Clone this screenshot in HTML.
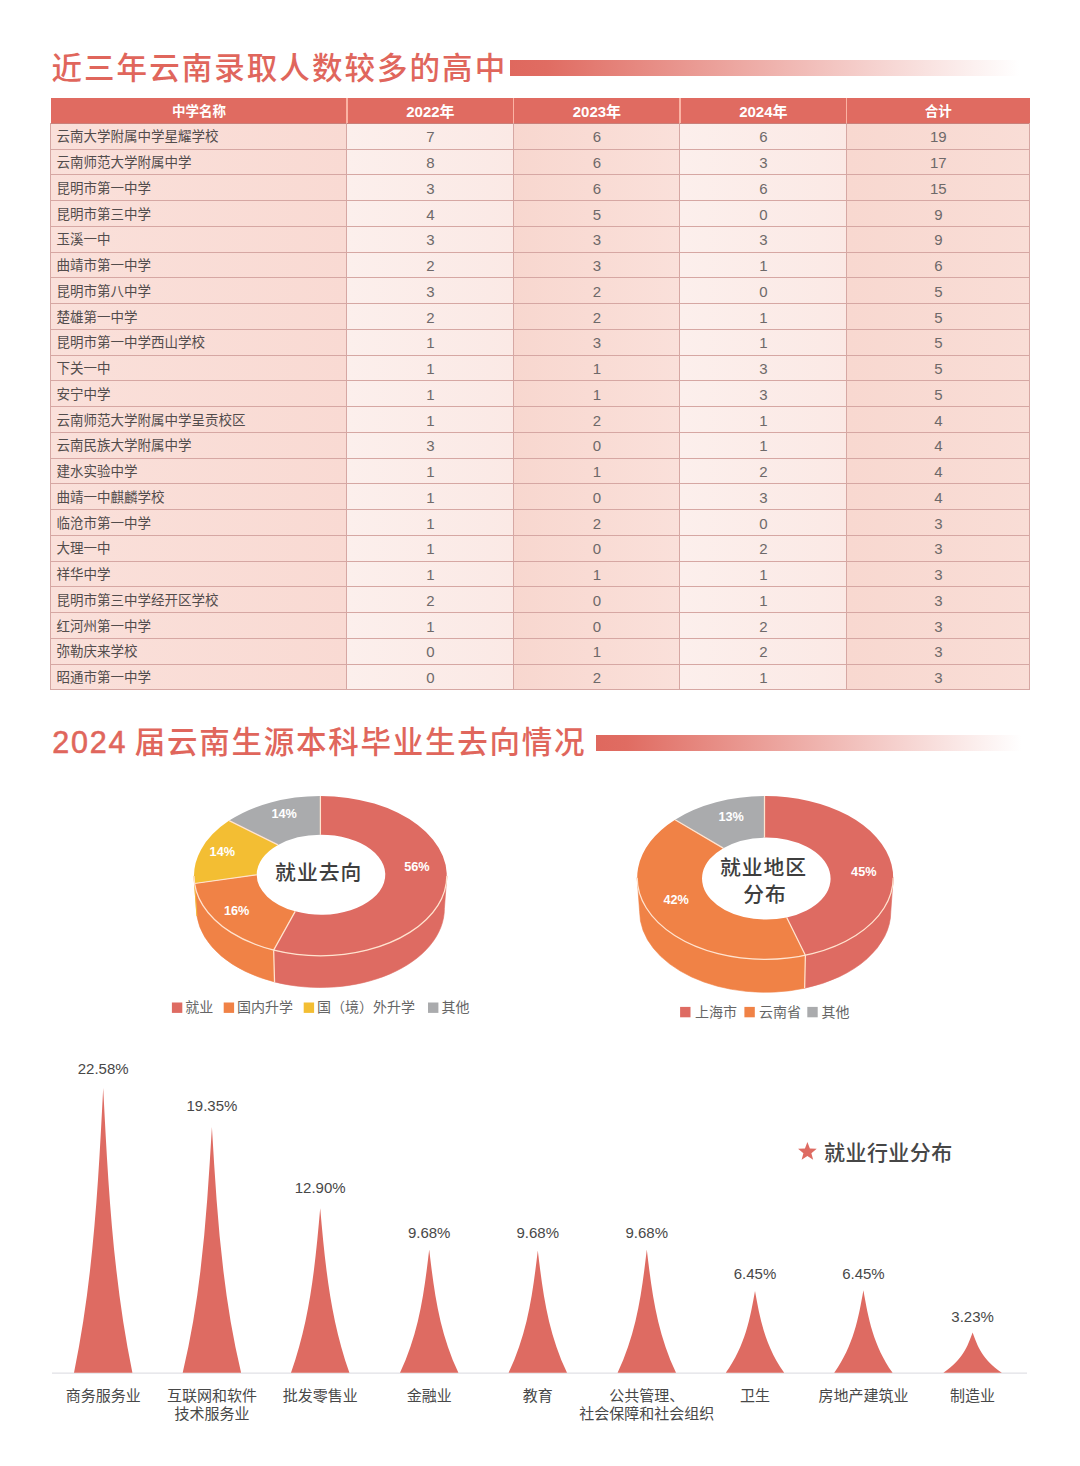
<!DOCTYPE html>
<html lang="zh-CN">
<head>
<meta charset="utf-8">
<title>近三年云南录取人数较多的高中</title>
<style>
html,body{margin:0;padding:0;background:#fff;}
body{width:1080px;height:1466px;position:relative;overflow:hidden;font-family:"Liberation Sans", "Noto Sans CJK SC", sans-serif;}
.abs{position:absolute;}
.title{position:absolute;color:#e0665c;font-weight:500;font-size:30.5px;line-height:40px;white-space:nowrap;letter-spacing:1.6px;}
.bar{position:absolute;height:16px;background:linear-gradient(90deg,#df685e 0%,#e06c62 7%,#ffffff 98%);}
.cell{position:absolute;box-sizing:border-box;white-space:nowrap;overflow:hidden;}
.hd{color:#fff;font-weight:700;text-align:center;font-size:13.5px;}
.hd.n{font-size:15px;}
.nm{color:#524c4c;font-size:13.5px;text-align:left;padding-left:5.5px;}
.nu{color:#6e6969;font-size:15px;text-align:center;}
.hl{position:absolute;height:1px;background:#d6a7a3;}
.vl{position:absolute;width:1.2px;background:#d6a7a3;}
svg text{font-family:"Liberation Sans", "Noto Sans CJK SC", sans-serif;}
</style>
</head>
<body>
<div class="title" id="t1" style="left:51.5px;top:47.5px;letter-spacing:2.05px;">近三年云南录取人数较多的高中</div>
<div class="bar" style="left:510px;top:60px;width:520px;"></div>
<div class="title" id="t2" style="left:52.3px;top:722px;letter-spacing:1.75px;word-spacing:-2.6px;"><span style="-webkit-text-stroke:0.55px #e0665c;">2024</span> 届云南生源本科毕业生去向情况</div>
<div class="bar" style="left:596px;top:735px;width:434px;"></div>
<div id="tbl">
<div class="abs" style="left:51.00px;top:123.40px;width:296.00px;height:566.40px;background:linear-gradient(90deg,#fae0da,#f9dad3);"></div>
<div class="abs" style="left:347.00px;top:123.40px;width:166.80px;height:566.40px;background:linear-gradient(90deg,#fcefec,#fbe9e5);"></div>
<div class="abs" style="left:513.80px;top:123.40px;width:166.20px;height:566.40px;background:linear-gradient(90deg,#f8d7cf,#fae0da);"></div>
<div class="abs" style="left:680.00px;top:123.40px;width:166.70px;height:566.40px;background:linear-gradient(90deg,#fcefec,#fbe9e5);"></div>
<div class="abs" style="left:846.70px;top:123.40px;width:183.30px;height:566.40px;background:linear-gradient(90deg,#f8d8d0,#f9ddd6);"></div>
<div class="abs" style="left:51.00px;top:97.60px;width:979.00px;height:25.80px;background:#e06b61;"></div>
<div class="cell hd" style="left:51.00px;top:97.60px;width:296.00px;height:25.80px;line-height:28.80px;">中学名称</div>
<div class="cell hd n" style="left:347.00px;top:97.60px;width:166.80px;height:25.80px;line-height:28.80px;">2022年</div>
<div class="cell hd n" style="left:513.80px;top:97.60px;width:166.20px;height:25.80px;line-height:28.80px;">2023年</div>
<div class="cell hd n" style="left:680.00px;top:97.60px;width:166.70px;height:25.80px;line-height:28.80px;">2024年</div>
<div class="cell hd" style="left:846.70px;top:97.60px;width:183.30px;height:25.80px;line-height:28.80px;">合计</div>
<div class="abs" style="left:346.30px;top:97.60px;width:1.4px;height:25.80px;background:#fbb3a4;"></div>
<div class="abs" style="left:513.10px;top:97.60px;width:1.4px;height:25.80px;background:#fbb3a4;"></div>
<div class="abs" style="left:679.30px;top:97.60px;width:1.4px;height:25.80px;background:#fbb3a4;"></div>
<div class="abs" style="left:846.00px;top:97.60px;width:1.4px;height:25.80px;background:#fbb3a4;"></div>
<div class="cell nm" style="left:51.00px;top:123.40px;width:296.00px;height:25.75px;line-height:28.05px;">云南大学附属中学星耀学校</div>
<div class="cell nu" style="left:347.00px;top:123.40px;width:166.80px;height:25.75px;line-height:28.25px;">7</div>
<div class="cell nu" style="left:513.80px;top:123.40px;width:166.20px;height:25.75px;line-height:28.25px;">6</div>
<div class="cell nu" style="left:680.00px;top:123.40px;width:166.70px;height:25.75px;line-height:28.25px;">6</div>
<div class="cell nu" style="left:846.70px;top:123.40px;width:183.30px;height:25.75px;line-height:28.25px;">19</div>
<div class="cell nm" style="left:51.00px;top:149.15px;width:296.00px;height:25.75px;line-height:28.05px;">云南师范大学附属中学</div>
<div class="cell nu" style="left:347.00px;top:149.15px;width:166.80px;height:25.75px;line-height:28.25px;">8</div>
<div class="cell nu" style="left:513.80px;top:149.15px;width:166.20px;height:25.75px;line-height:28.25px;">6</div>
<div class="cell nu" style="left:680.00px;top:149.15px;width:166.70px;height:25.75px;line-height:28.25px;">3</div>
<div class="cell nu" style="left:846.70px;top:149.15px;width:183.30px;height:25.75px;line-height:28.25px;">17</div>
<div class="cell nm" style="left:51.00px;top:174.89px;width:296.00px;height:25.75px;line-height:28.05px;">昆明市第一中学</div>
<div class="cell nu" style="left:347.00px;top:174.89px;width:166.80px;height:25.75px;line-height:28.25px;">3</div>
<div class="cell nu" style="left:513.80px;top:174.89px;width:166.20px;height:25.75px;line-height:28.25px;">6</div>
<div class="cell nu" style="left:680.00px;top:174.89px;width:166.70px;height:25.75px;line-height:28.25px;">6</div>
<div class="cell nu" style="left:846.70px;top:174.89px;width:183.30px;height:25.75px;line-height:28.25px;">15</div>
<div class="cell nm" style="left:51.00px;top:200.64px;width:296.00px;height:25.75px;line-height:28.05px;">昆明市第三中学</div>
<div class="cell nu" style="left:347.00px;top:200.64px;width:166.80px;height:25.75px;line-height:28.25px;">4</div>
<div class="cell nu" style="left:513.80px;top:200.64px;width:166.20px;height:25.75px;line-height:28.25px;">5</div>
<div class="cell nu" style="left:680.00px;top:200.64px;width:166.70px;height:25.75px;line-height:28.25px;">0</div>
<div class="cell nu" style="left:846.70px;top:200.64px;width:183.30px;height:25.75px;line-height:28.25px;">9</div>
<div class="cell nm" style="left:51.00px;top:226.38px;width:296.00px;height:25.75px;line-height:28.05px;">玉溪一中</div>
<div class="cell nu" style="left:347.00px;top:226.38px;width:166.80px;height:25.75px;line-height:28.25px;">3</div>
<div class="cell nu" style="left:513.80px;top:226.38px;width:166.20px;height:25.75px;line-height:28.25px;">3</div>
<div class="cell nu" style="left:680.00px;top:226.38px;width:166.70px;height:25.75px;line-height:28.25px;">3</div>
<div class="cell nu" style="left:846.70px;top:226.38px;width:183.30px;height:25.75px;line-height:28.25px;">9</div>
<div class="cell nm" style="left:51.00px;top:252.13px;width:296.00px;height:25.75px;line-height:28.05px;">曲靖市第一中学</div>
<div class="cell nu" style="left:347.00px;top:252.13px;width:166.80px;height:25.75px;line-height:28.25px;">2</div>
<div class="cell nu" style="left:513.80px;top:252.13px;width:166.20px;height:25.75px;line-height:28.25px;">3</div>
<div class="cell nu" style="left:680.00px;top:252.13px;width:166.70px;height:25.75px;line-height:28.25px;">1</div>
<div class="cell nu" style="left:846.70px;top:252.13px;width:183.30px;height:25.75px;line-height:28.25px;">6</div>
<div class="cell nm" style="left:51.00px;top:277.87px;width:296.00px;height:25.75px;line-height:28.05px;">昆明市第八中学</div>
<div class="cell nu" style="left:347.00px;top:277.87px;width:166.80px;height:25.75px;line-height:28.25px;">3</div>
<div class="cell nu" style="left:513.80px;top:277.87px;width:166.20px;height:25.75px;line-height:28.25px;">2</div>
<div class="cell nu" style="left:680.00px;top:277.87px;width:166.70px;height:25.75px;line-height:28.25px;">0</div>
<div class="cell nu" style="left:846.70px;top:277.87px;width:183.30px;height:25.75px;line-height:28.25px;">5</div>
<div class="cell nm" style="left:51.00px;top:303.62px;width:296.00px;height:25.75px;line-height:28.05px;">楚雄第一中学</div>
<div class="cell nu" style="left:347.00px;top:303.62px;width:166.80px;height:25.75px;line-height:28.25px;">2</div>
<div class="cell nu" style="left:513.80px;top:303.62px;width:166.20px;height:25.75px;line-height:28.25px;">2</div>
<div class="cell nu" style="left:680.00px;top:303.62px;width:166.70px;height:25.75px;line-height:28.25px;">1</div>
<div class="cell nu" style="left:846.70px;top:303.62px;width:183.30px;height:25.75px;line-height:28.25px;">5</div>
<div class="cell nm" style="left:51.00px;top:329.36px;width:296.00px;height:25.75px;line-height:28.05px;">昆明市第一中学西山学校</div>
<div class="cell nu" style="left:347.00px;top:329.36px;width:166.80px;height:25.75px;line-height:28.25px;">1</div>
<div class="cell nu" style="left:513.80px;top:329.36px;width:166.20px;height:25.75px;line-height:28.25px;">3</div>
<div class="cell nu" style="left:680.00px;top:329.36px;width:166.70px;height:25.75px;line-height:28.25px;">1</div>
<div class="cell nu" style="left:846.70px;top:329.36px;width:183.30px;height:25.75px;line-height:28.25px;">5</div>
<div class="cell nm" style="left:51.00px;top:355.11px;width:296.00px;height:25.75px;line-height:28.05px;">下关一中</div>
<div class="cell nu" style="left:347.00px;top:355.11px;width:166.80px;height:25.75px;line-height:28.25px;">1</div>
<div class="cell nu" style="left:513.80px;top:355.11px;width:166.20px;height:25.75px;line-height:28.25px;">1</div>
<div class="cell nu" style="left:680.00px;top:355.11px;width:166.70px;height:25.75px;line-height:28.25px;">3</div>
<div class="cell nu" style="left:846.70px;top:355.11px;width:183.30px;height:25.75px;line-height:28.25px;">5</div>
<div class="cell nm" style="left:51.00px;top:380.85px;width:296.00px;height:25.75px;line-height:28.05px;">安宁中学</div>
<div class="cell nu" style="left:347.00px;top:380.85px;width:166.80px;height:25.75px;line-height:28.25px;">1</div>
<div class="cell nu" style="left:513.80px;top:380.85px;width:166.20px;height:25.75px;line-height:28.25px;">1</div>
<div class="cell nu" style="left:680.00px;top:380.85px;width:166.70px;height:25.75px;line-height:28.25px;">3</div>
<div class="cell nu" style="left:846.70px;top:380.85px;width:183.30px;height:25.75px;line-height:28.25px;">5</div>
<div class="cell nm" style="left:51.00px;top:406.60px;width:296.00px;height:25.75px;line-height:28.05px;">云南师范大学附属中学呈贡校区</div>
<div class="cell nu" style="left:347.00px;top:406.60px;width:166.80px;height:25.75px;line-height:28.25px;">1</div>
<div class="cell nu" style="left:513.80px;top:406.60px;width:166.20px;height:25.75px;line-height:28.25px;">2</div>
<div class="cell nu" style="left:680.00px;top:406.60px;width:166.70px;height:25.75px;line-height:28.25px;">1</div>
<div class="cell nu" style="left:846.70px;top:406.60px;width:183.30px;height:25.75px;line-height:28.25px;">4</div>
<div class="cell nm" style="left:51.00px;top:432.35px;width:296.00px;height:25.75px;line-height:28.05px;">云南民族大学附属中学</div>
<div class="cell nu" style="left:347.00px;top:432.35px;width:166.80px;height:25.75px;line-height:28.25px;">3</div>
<div class="cell nu" style="left:513.80px;top:432.35px;width:166.20px;height:25.75px;line-height:28.25px;">0</div>
<div class="cell nu" style="left:680.00px;top:432.35px;width:166.70px;height:25.75px;line-height:28.25px;">1</div>
<div class="cell nu" style="left:846.70px;top:432.35px;width:183.30px;height:25.75px;line-height:28.25px;">4</div>
<div class="cell nm" style="left:51.00px;top:458.09px;width:296.00px;height:25.75px;line-height:28.05px;">建水实验中学</div>
<div class="cell nu" style="left:347.00px;top:458.09px;width:166.80px;height:25.75px;line-height:28.25px;">1</div>
<div class="cell nu" style="left:513.80px;top:458.09px;width:166.20px;height:25.75px;line-height:28.25px;">1</div>
<div class="cell nu" style="left:680.00px;top:458.09px;width:166.70px;height:25.75px;line-height:28.25px;">2</div>
<div class="cell nu" style="left:846.70px;top:458.09px;width:183.30px;height:25.75px;line-height:28.25px;">4</div>
<div class="cell nm" style="left:51.00px;top:483.84px;width:296.00px;height:25.75px;line-height:28.05px;">曲靖一中麒麟学校</div>
<div class="cell nu" style="left:347.00px;top:483.84px;width:166.80px;height:25.75px;line-height:28.25px;">1</div>
<div class="cell nu" style="left:513.80px;top:483.84px;width:166.20px;height:25.75px;line-height:28.25px;">0</div>
<div class="cell nu" style="left:680.00px;top:483.84px;width:166.70px;height:25.75px;line-height:28.25px;">3</div>
<div class="cell nu" style="left:846.70px;top:483.84px;width:183.30px;height:25.75px;line-height:28.25px;">4</div>
<div class="cell nm" style="left:51.00px;top:509.58px;width:296.00px;height:25.75px;line-height:28.05px;">临沧市第一中学</div>
<div class="cell nu" style="left:347.00px;top:509.58px;width:166.80px;height:25.75px;line-height:28.25px;">1</div>
<div class="cell nu" style="left:513.80px;top:509.58px;width:166.20px;height:25.75px;line-height:28.25px;">2</div>
<div class="cell nu" style="left:680.00px;top:509.58px;width:166.70px;height:25.75px;line-height:28.25px;">0</div>
<div class="cell nu" style="left:846.70px;top:509.58px;width:183.30px;height:25.75px;line-height:28.25px;">3</div>
<div class="cell nm" style="left:51.00px;top:535.33px;width:296.00px;height:25.75px;line-height:28.05px;">大理一中</div>
<div class="cell nu" style="left:347.00px;top:535.33px;width:166.80px;height:25.75px;line-height:28.25px;">1</div>
<div class="cell nu" style="left:513.80px;top:535.33px;width:166.20px;height:25.75px;line-height:28.25px;">0</div>
<div class="cell nu" style="left:680.00px;top:535.33px;width:166.70px;height:25.75px;line-height:28.25px;">2</div>
<div class="cell nu" style="left:846.70px;top:535.33px;width:183.30px;height:25.75px;line-height:28.25px;">3</div>
<div class="cell nm" style="left:51.00px;top:561.07px;width:296.00px;height:25.75px;line-height:28.05px;">祥华中学</div>
<div class="cell nu" style="left:347.00px;top:561.07px;width:166.80px;height:25.75px;line-height:28.25px;">1</div>
<div class="cell nu" style="left:513.80px;top:561.07px;width:166.20px;height:25.75px;line-height:28.25px;">1</div>
<div class="cell nu" style="left:680.00px;top:561.07px;width:166.70px;height:25.75px;line-height:28.25px;">1</div>
<div class="cell nu" style="left:846.70px;top:561.07px;width:183.30px;height:25.75px;line-height:28.25px;">3</div>
<div class="cell nm" style="left:51.00px;top:586.82px;width:296.00px;height:25.75px;line-height:28.05px;">昆明市第三中学经开区学校</div>
<div class="cell nu" style="left:347.00px;top:586.82px;width:166.80px;height:25.75px;line-height:28.25px;">2</div>
<div class="cell nu" style="left:513.80px;top:586.82px;width:166.20px;height:25.75px;line-height:28.25px;">0</div>
<div class="cell nu" style="left:680.00px;top:586.82px;width:166.70px;height:25.75px;line-height:28.25px;">1</div>
<div class="cell nu" style="left:846.70px;top:586.82px;width:183.30px;height:25.75px;line-height:28.25px;">3</div>
<div class="cell nm" style="left:51.00px;top:612.56px;width:296.00px;height:25.75px;line-height:28.05px;">红河州第一中学</div>
<div class="cell nu" style="left:347.00px;top:612.56px;width:166.80px;height:25.75px;line-height:28.25px;">1</div>
<div class="cell nu" style="left:513.80px;top:612.56px;width:166.20px;height:25.75px;line-height:28.25px;">0</div>
<div class="cell nu" style="left:680.00px;top:612.56px;width:166.70px;height:25.75px;line-height:28.25px;">2</div>
<div class="cell nu" style="left:846.70px;top:612.56px;width:183.30px;height:25.75px;line-height:28.25px;">3</div>
<div class="cell nm" style="left:51.00px;top:638.31px;width:296.00px;height:25.75px;line-height:28.05px;">弥勒庆来学校</div>
<div class="cell nu" style="left:347.00px;top:638.31px;width:166.80px;height:25.75px;line-height:28.25px;">0</div>
<div class="cell nu" style="left:513.80px;top:638.31px;width:166.20px;height:25.75px;line-height:28.25px;">1</div>
<div class="cell nu" style="left:680.00px;top:638.31px;width:166.70px;height:25.75px;line-height:28.25px;">2</div>
<div class="cell nu" style="left:846.70px;top:638.31px;width:183.30px;height:25.75px;line-height:28.25px;">3</div>
<div class="cell nm" style="left:51.00px;top:664.05px;width:296.00px;height:25.75px;line-height:28.05px;">昭通市第一中学</div>
<div class="cell nu" style="left:347.00px;top:664.05px;width:166.80px;height:25.75px;line-height:28.25px;">0</div>
<div class="cell nu" style="left:513.80px;top:664.05px;width:166.20px;height:25.75px;line-height:28.25px;">2</div>
<div class="cell nu" style="left:680.00px;top:664.05px;width:166.70px;height:25.75px;line-height:28.25px;">1</div>
<div class="cell nu" style="left:846.70px;top:664.05px;width:183.30px;height:25.75px;line-height:28.25px;">3</div>
<div class="hl" style="left:51.00px;top:122.90px;width:979.00px;background:#c9807a;"></div>
<div class="hl" style="left:51.00px;top:149px;width:979.00px;"></div>
<div class="hl" style="left:51.00px;top:174px;width:979.00px;"></div>
<div class="hl" style="left:51.00px;top:200px;width:979.00px;"></div>
<div class="hl" style="left:51.00px;top:226px;width:979.00px;"></div>
<div class="hl" style="left:51.00px;top:252px;width:979.00px;"></div>
<div class="hl" style="left:51.00px;top:277px;width:979.00px;"></div>
<div class="hl" style="left:51.00px;top:303px;width:979.00px;"></div>
<div class="hl" style="left:51.00px;top:329px;width:979.00px;"></div>
<div class="hl" style="left:51.00px;top:355px;width:979.00px;"></div>
<div class="hl" style="left:51.00px;top:380px;width:979.00px;"></div>
<div class="hl" style="left:51.00px;top:406px;width:979.00px;"></div>
<div class="hl" style="left:51.00px;top:432px;width:979.00px;"></div>
<div class="hl" style="left:51.00px;top:458px;width:979.00px;"></div>
<div class="hl" style="left:51.00px;top:483px;width:979.00px;"></div>
<div class="hl" style="left:51.00px;top:509px;width:979.00px;"></div>
<div class="hl" style="left:51.00px;top:535px;width:979.00px;"></div>
<div class="hl" style="left:51.00px;top:561px;width:979.00px;"></div>
<div class="hl" style="left:51.00px;top:586px;width:979.00px;"></div>
<div class="hl" style="left:51.00px;top:612px;width:979.00px;"></div>
<div class="hl" style="left:51.00px;top:638px;width:979.00px;"></div>
<div class="hl" style="left:51.00px;top:664px;width:979.00px;"></div>
<div class="hl" style="left:51.00px;top:689px;width:979.00px;"></div>
<div class="vl" style="left:50.30px;top:123.40px;height:566.90px;"></div>
<div class="vl" style="left:346.30px;top:123.40px;height:566.90px;"></div>
<div class="vl" style="left:513.10px;top:123.40px;height:566.90px;"></div>
<div class="vl" style="left:679.30px;top:123.40px;height:566.90px;"></div>
<div class="vl" style="left:846.00px;top:123.40px;height:566.90px;"></div>
<div class="vl" style="left:1029.30px;top:123.40px;height:566.90px;"></div>
</div>
<svg class="abs" style="left:0;top:0;" width="1080" height="1466" viewBox="0 0 1080 1466">
<path d="M446.80 875.90 A126.40 79.90 0 0 1 273.66 950.14 L274.55 981.90 A124.00 79.00 0 0 0 444.40 908.50 Z" fill="#de6b62" stroke="#de6b62" stroke-width="0.6"/>
<path d="M273.66 950.14 A126.40 79.90 0 0 1 194.57 883.50 L196.96 916.02 A124.00 79.00 0 0 0 274.55 981.90 Z" fill="#f08246" stroke="#f08246" stroke-width="0.6"/>
<path d="M194.57 883.50 A126.40 79.90 0 0 1 194.00 875.90 L196.40 908.50 A124.00 79.00 0 0 0 196.96 916.02 Z" fill="#f3be33" stroke="#f3be33" stroke-width="0.6"/>
<path d="M320.40 796.00 A126.40 79.90 0 1 1 273.66 950.14 L295.21 911.34 A64.30 40.00 0 1 0 320.40 834.70 Z" fill="#de6b62"/>
<path d="M273.66 950.14 A126.40 79.90 0 0 1 194.57 883.50 L256.70 874.86 A64.30 40.00 0 0 0 295.21 911.34 Z" fill="#f08246"/>
<path d="M194.57 883.50 A126.40 79.90 0 0 1 229.18 820.59 L278.06 844.92 A64.30 40.00 0 0 0 256.70 874.86 Z" fill="#f3be33"/>
<path d="M229.18 820.59 A126.40 79.90 0 0 1 320.40 796.00 L320.40 834.70 A64.30 40.00 0 0 0 278.06 844.92 Z" fill="#aaabad"/>
<path d="M273.66 950.14 L274.55 981.90 M320.40 796.00 L320.40 834.70 M273.66 950.14 L295.21 911.34 M194.57 883.50 L256.70 874.86 M229.18 820.59 L278.06 844.92 M446.80 875.90 A126.40 79.90 0 0 1 194.00 875.90" fill="none" stroke="#ffe3cf" stroke-width="1.25" stroke-linecap="butt"/>
<path d="M893.20 877.70 A128.00 81.70 0 0 1 805.38 955.27 L804.63 988.22 A125.60 80.80 0 0 0 890.80 911.50 Z" fill="#de6b62" stroke="#de6b62" stroke-width="0.6"/>
<path d="M805.38 955.27 A128.00 81.70 0 0 1 637.20 877.70 L639.60 911.50 A125.60 80.80 0 0 0 804.63 988.22 Z" fill="#f08246" stroke="#f08246" stroke-width="0.6"/>
<path d="M764.50 796.00 A128.00 81.70 0 0 1 805.38 955.27 L786.71 917.48 A64.30 41.00 0 0 0 764.50 837.62 Z" fill="#de6b62"/>
<path d="M805.38 955.27 A128.00 81.70 0 0 1 675.06 819.69 L723.25 848.15 A64.30 41.00 0 0 0 786.71 917.48 Z" fill="#f08246"/>
<path d="M675.06 819.69 A128.00 81.70 0 0 1 764.50 796.00 L764.50 837.62 A64.30 41.00 0 0 0 723.25 848.15 Z" fill="#aaabad"/>
<path d="M805.38 955.27 L804.63 988.22 M764.50 796.00 L764.50 837.62 M805.38 955.27 L786.71 917.48 M675.06 819.69 L723.25 848.15 M893.20 877.70 A128.00 81.70 0 0 1 637.20 877.70" fill="none" stroke="#ffe3cf" stroke-width="1.25" stroke-linecap="butt"/>
<text x="416.90" y="871.10" font-size="12.7" fill="#fff" font-weight="700" text-anchor="middle">56%</text>
<text x="236.60" y="914.90" font-size="12.7" fill="#fff" font-weight="700" text-anchor="middle">16%</text>
<text x="222.30" y="855.60" font-size="12.7" fill="#fff" font-weight="700" text-anchor="middle">14%</text>
<text x="284.10" y="817.60" font-size="12.7" fill="#fff" font-weight="700" text-anchor="middle">14%</text>
<text x="863.80" y="875.60" font-size="12.7" fill="#fff" font-weight="700" text-anchor="middle">45%</text>
<text x="676.20" y="904.10" font-size="12.7" fill="#fff" font-weight="700" text-anchor="middle">42%</text>
<text x="731.10" y="821.10" font-size="12.7" fill="#fff" font-weight="700" text-anchor="middle">13%</text>
<text x="318.70" y="879.50" font-size="20.8" fill="#3e3e3e" font-weight="500" text-anchor="middle" letter-spacing="1.0">就业去向</text>
<text x="763.50" y="875.00" font-size="20.8" fill="#3e3e3e" font-weight="500" text-anchor="middle" letter-spacing="1.0">就业地区</text>
<text x="765.00" y="901.50" font-size="20.8" fill="#3e3e3e" font-weight="500" text-anchor="middle" letter-spacing="1.0">分布</text>
<rect x="171.9" y="1002.5" width="10.4" height="10.4" fill="#de6b62"/>
<text x="185.20" y="1012.40" font-size="14" fill="#666" font-weight="400" text-anchor="start">就业</text>
<rect x="223.7" y="1002.5" width="10.4" height="10.4" fill="#f08246"/>
<text x="237.00" y="1012.40" font-size="14" fill="#666" font-weight="400" text-anchor="start">国内升学</text>
<rect x="303.7" y="1002.5" width="10.4" height="10.4" fill="#f3be33"/>
<text x="317.00" y="1012.40" font-size="14" fill="#666" font-weight="400" text-anchor="start">国（境）外升学</text>
<rect x="428.0" y="1002.5" width="10.4" height="10.4" fill="#aaabad"/>
<text x="441.50" y="1012.40" font-size="14" fill="#666" font-weight="400" text-anchor="start">其他</text>
<rect x="680.1" y="1006.9" width="10.4" height="10.4" fill="#de6b62"/>
<text x="695.00" y="1017.20" font-size="14" fill="#666" font-weight="400" text-anchor="start">上海市</text>
<rect x="744.4" y="1006.9" width="10.4" height="10.4" fill="#f08246"/>
<text x="759.00" y="1017.20" font-size="14" fill="#666" font-weight="400" text-anchor="start">云南省</text>
<rect x="807.3" y="1006.9" width="10.4" height="10.4" fill="#aaabad"/>
<text x="821.50" y="1017.20" font-size="14" fill="#666" font-weight="400" text-anchor="start">其他</text>
<rect x="52" y="1372.6" width="975" height="1" fill="#d9d9df"/>
<path d="M103.20 1088.00 C108.07 1182.93 112.93 1277.87 132.40 1372.80 L74.00 1372.80 C93.47 1277.87 98.33 1182.93 103.20 1088.00 Z" fill="#de6b62"/>
<text x="103.20" y="1074.40" font-size="15" fill="#484848" font-weight="400" text-anchor="middle">22.58%</text>
<text x="103.20" y="1400.50" font-size="15" fill="#484848" font-weight="400" text-anchor="middle">商务服务业</text>
<path d="M211.90 1127.00 C216.77 1208.93 221.63 1290.87 241.10 1372.80 L182.70 1372.80 C202.17 1290.87 207.03 1208.93 211.90 1127.00 Z" fill="#de6b62"/>
<text x="211.90" y="1111.40" font-size="15" fill="#484848" font-weight="400" text-anchor="middle">19.35%</text>
<text x="211.90" y="1400.50" font-size="15" fill="#484848" font-weight="400" text-anchor="middle">互联网和软件</text>
<text x="211.90" y="1419.30" font-size="15" fill="#484848" font-weight="400" text-anchor="middle">技术服务业</text>
<path d="M320.20 1208.20 C325.07 1263.07 329.93 1317.93 349.40 1372.80 L291.00 1372.80 C310.47 1317.93 315.33 1263.07 320.20 1208.20 Z" fill="#de6b62"/>
<text x="320.20" y="1192.80" font-size="15" fill="#484848" font-weight="400" text-anchor="middle">12.90%</text>
<text x="320.20" y="1400.50" font-size="15" fill="#484848" font-weight="400" text-anchor="middle">批发零售业</text>
<path d="M429.20 1249.60 C434.07 1290.67 438.93 1331.73 458.40 1372.80 L400.00 1372.80 C419.47 1331.73 424.33 1290.67 429.20 1249.60 Z" fill="#de6b62"/>
<text x="429.20" y="1237.80" font-size="15" fill="#484848" font-weight="400" text-anchor="middle">9.68%</text>
<text x="429.20" y="1400.50" font-size="15" fill="#484848" font-weight="400" text-anchor="middle">金融业</text>
<path d="M537.80 1250.50 C542.67 1291.27 547.53 1332.03 567.00 1372.80 L508.60 1372.80 C528.07 1332.03 532.93 1291.27 537.80 1250.50 Z" fill="#de6b62"/>
<text x="537.80" y="1237.80" font-size="15" fill="#484848" font-weight="400" text-anchor="middle">9.68%</text>
<text x="537.80" y="1400.50" font-size="15" fill="#484848" font-weight="400" text-anchor="middle">教育</text>
<path d="M646.80 1249.60 C651.67 1290.67 656.53 1331.73 676.00 1372.80 L617.60 1372.80 C637.07 1331.73 641.93 1290.67 646.80 1249.60 Z" fill="#de6b62"/>
<text x="646.80" y="1237.90" font-size="15" fill="#484848" font-weight="400" text-anchor="middle">9.68%</text>
<text x="646.80" y="1400.50" font-size="15" fill="#484848" font-weight="400" text-anchor="middle">公共管理、</text>
<text x="646.80" y="1419.30" font-size="15" fill="#484848" font-weight="400" text-anchor="middle">社会保障和社会组织</text>
<path d="M755.00 1291.00 C759.87 1318.27 764.73 1345.53 784.20 1372.80 L725.80 1372.80 C745.27 1345.53 750.13 1318.27 755.00 1291.00 Z" fill="#de6b62"/>
<text x="755.00" y="1278.80" font-size="15" fill="#484848" font-weight="400" text-anchor="middle">6.45%</text>
<text x="755.00" y="1400.50" font-size="15" fill="#484848" font-weight="400" text-anchor="middle">卫生</text>
<path d="M863.40 1290.20 C868.27 1317.73 873.13 1345.27 892.60 1372.80 L834.20 1372.80 C853.67 1345.27 858.53 1317.73 863.40 1290.20 Z" fill="#de6b62"/>
<text x="863.40" y="1278.80" font-size="15" fill="#484848" font-weight="400" text-anchor="middle">6.45%</text>
<text x="863.40" y="1400.50" font-size="15" fill="#484848" font-weight="400" text-anchor="middle">房地产建筑业</text>
<path d="M972.60 1332.40 C977.47 1345.87 982.33 1359.33 1001.80 1372.80 L943.40 1372.80 C962.87 1359.33 967.73 1345.87 972.60 1332.40 Z" fill="#de6b62"/>
<text x="972.60" y="1321.60" font-size="15" fill="#484848" font-weight="400" text-anchor="middle">3.23%</text>
<text x="972.60" y="1400.50" font-size="15" fill="#484848" font-weight="400" text-anchor="middle">制造业</text>
<polygon points="807.40,1142.10 809.87,1148.50 816.72,1148.87 811.39,1153.20 813.16,1159.83 807.40,1156.10 801.64,1159.83 803.41,1153.20 798.08,1148.87 804.93,1148.50" fill="#de6b62"/>
<text x="824.00" y="1159.60" font-size="21" fill="#464646" font-weight="500" text-anchor="start" letter-spacing="0.45">就业行业分布</text>
</svg>
</body>
</html>
